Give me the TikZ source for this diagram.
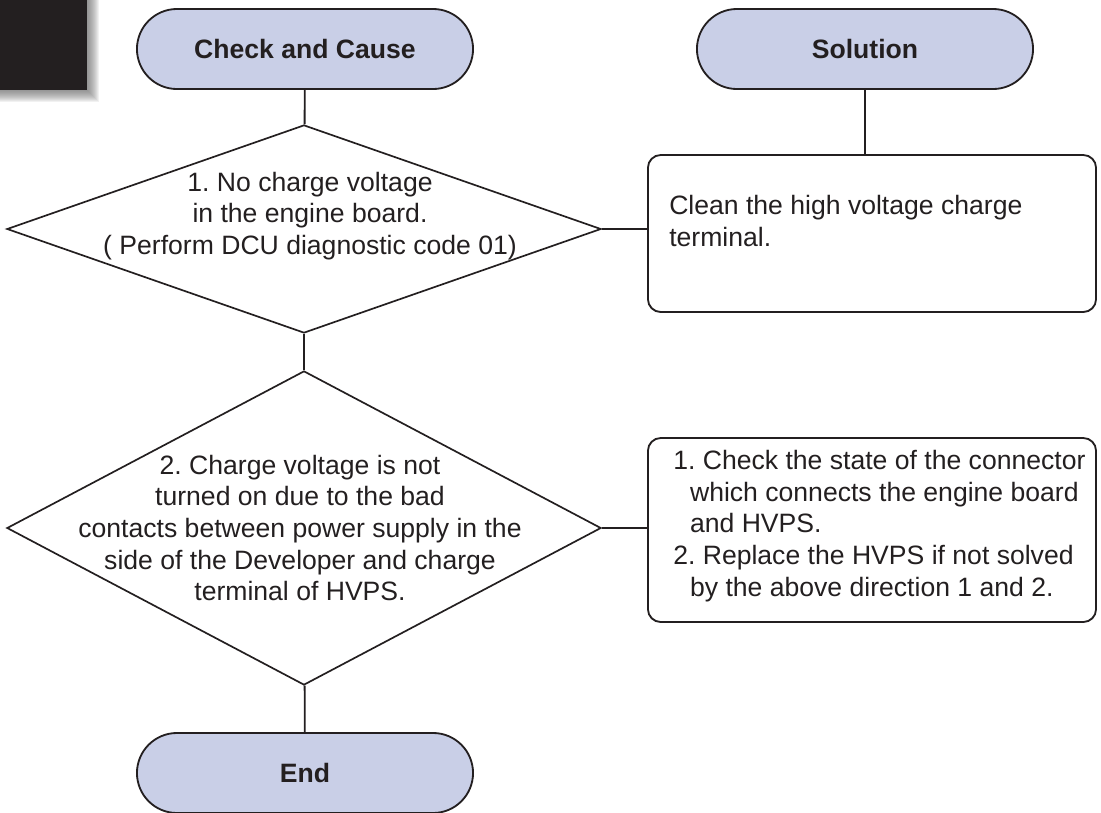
\documentclass[tikz,border=0pt]{standalone}
\usepackage{fontspec}
\setmainfont{Liberation Sans}
\frenchspacing
\usetikzlibrary{shapes.geometric}

\definecolor{inkblack}{RGB}{35,31,32}
\definecolor{pillblue}{RGB}{201,207,231}

\begin{document}
\begin{tikzpicture}[x=0.025cm, y=-0.025cm,
    txt/.style={inner sep=0cm, text=inkblack, font=\fontsize{18.9}{22.5}\selectfont},
    pill/.style={rectangle, rounded corners=1cm, draw=inkblack, line width=1.3pt, fill=pillblue,
        minimum width=8.4cm, minimum height=2cm, text=inkblack, font=\fontsize{18.9}{22.5}\selectfont\bfseries},
    decision/.style={diamond, draw=inkblack, line width=1.2pt, inner sep=0cm, minimum width=14.85cm},
    answer/.style={rectangle, rounded corners=0.32cm, draw=inkblack, line width=1.3pt, minimum width=11.2cm}]
\useasboundingbox (0,0) rectangle (1101,812);

% corner tab with its soft shadow
\foreach \d in {1,...,13}
    \fill[black!60, opacity=0.09] (0,0) rectangle (86+\d,89+\d);
\fill[inkblack] (0,0) rectangle (87,90);

\begin{scope}
    \node[pill] (cause) at (305,49) {Check and Cause};
    \node[pill] (solution) at (865,49) {Solution};
    \node[pill] (finish) at (305,773) {End};
    \node[decision, minimum height=5.2cm] (check1) at (304,229) {};
    \node[decision, minimum height=7.85cm] (check2) at (304,528) {};
    \node[answer, minimum height=3.925cm] (fix1) at (872,233.5) {};
    \node[answer, minimum height=4.6cm] (fix2) at (872,530) {};
\end{scope}

\begin{scope}[every node/.style={txt}]
    \node[align=center] (check1txt) at (310,216) {1. No charge voltage\\in the engine board.\\( Perform DCU diagnostic code 01)};
    \node[align=center] (check2txt) at (300,528) {2. Charge voltage is not\\turned on due to the bad\\contacts between power supply in the\\side of the Developer and charge\\terminal of HVPS.};
    \node[align=left, anchor=west] (fix1txt) at (669,221) {Clean the high voltage charge\\terminal.};
    \node[align=left, anchor=west] (fix2txt) at (673,526) {1. Check the state of the connector\\\hspace*{0.42cm}which connects the engine board\\\hspace*{0.42cm}and HVPS.\\2. Replace the HVPS if not solved\\\hspace*{0.42cm}by the above direction 1 and 2.};
\end{scope}

\begin{scope}[every edge/.style={draw=inkblack, line width=1.3pt}]
    \path (cause) edge (check1);
    \path (check1) edge (check2);
    \path (check2) edge (finish);
    \path (check1.east) edge (check1.east -| fix1.west);
    \path (check2.east) edge (check2.east -| fix2.west);
    \path (solution.south) edge (solution.south |- fix1.north);
\end{scope}
\end{tikzpicture}
\end{document}
